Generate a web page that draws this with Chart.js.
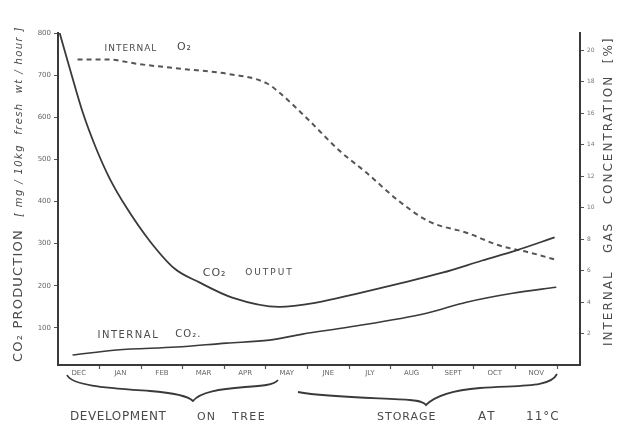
<!DOCTYPE html>
<html>
<head>
<meta charset="utf-8">
<script src="https://cdn.jsdelivr.net/npm/chart.js@4/dist/chart.umd.min.js"></script>
<style>
  html, body { margin: 0; padding: 0; background: #fff; }
  #wrap { width: 618px; height: 423px; }
</style>
</head>
<body>
<div id="wrap"><canvas id="myChart" width="618" height="423"></canvas></div>
<script>
var ctx = document.getElementById('myChart').getContext('2d');

// month labels along the bottom (each month is one unit on the x scale)
var months = ["DEC", "JAN", "FEB", "MAR", "APR", "MAY", "JNE", "JLY", "AUG", "SEPT", "OCT", "NOV"];

// CO2 output, left axis (mg / 10kg fresh wt / hour)
var co2OutputAt = [0.04, 0.3, 0.6, 0.9, 1.24, 1.65, 2.2, 2.8, 3.4, 4.19, 5.32, 6.21, 7.17, 8.2, 9.24, 10.2, 11.02, 11.94];
var co2Output = [800, 710, 610, 530, 455, 385, 307, 241, 208, 172, 150, 160, 181, 205, 231, 260, 284, 315];

// internal O2, right axis (%)
var o2At = [0.47, 1.17, 1.96, 2.99, 4.05, 5.01, 5.32, 5.97, 6.77, 7.42, 8.2, 8.93, 9.82, 10.6, 11.4, 11.94];
var o2 = [19.4, 19.4, 19.1, 18.8, 18.5, 17.9, 17.3, 15.7, 13.6, 12.2, 10.4, 9.1, 8.4, 7.6, 7.1, 6.7];

// internal CO2, right axis (%)
var co2InAt = [0.35, 1.41, 2.85, 4.05, 5.08, 5.88, 7.0, 8.86, 9.82, 10.93, 11.98];
var co2In = [0.63, 0.95, 1.14, 1.39, 1.58, 1.96, 2.41, 3.29, 3.99, 4.56, 4.94];

// tick values
var leftTicks = [100, 200, 300, 400, 500, 600, 700, 800];
var rightTicks = [2, 4, 6, 8, 10, 12, 14, 16, 18, 20];

function pts(xs, ys) {
    return xs.map(function (x, i) { return { x: x, y: ys[i] }; });
}

var ink = '#3a3a3a';
var textInk = '#4a4a4a';

function rotText(c, str, x, y, font, spacing) {
    c.save();
    c.translate(x, y);
    c.rotate(-Math.PI / 2);
    c.font = font;
    c.letterSpacing = spacing + 'px';
    c.fillText(str, 0, 0);
    var w = c.measureText(str).width;
    c.restore();
    return w;
}

function txt(c, str, x, y, font, spacing) {
    c.font = font;
    c.letterSpacing = (spacing || 0) + 'px';
    c.fillText(str, x, y);
}

// hand drawn bits: in-plot labels, braces, axis titles
var decor = {
    id: 'decor',
    afterDraw: function (chart) {
        var c = chart.ctx;
        var xs = chart.scales.x, yl = chart.scales.y, yr = chart.scales.y2;
        c.save();
        c.fillStyle = textInk;
        c.textBaseline = 'middle';
        c.textAlign = 'left';

        // series labels
        txt(c, 'INTERNAL', xs.getPixelForValue(1.12), yr.getPixelForValue(20.1), '9px "DejaVu Sans"', 1);
        txt(c, 'O₂', xs.getPixelForValue(2.86), yr.getPixelForValue(20.2), '11px "DejaVu Sans"', 1);
        txt(c, 'CO₂', xs.getPixelForValue(3.48), yl.getPixelForValue(230), '11px "DejaVu Sans"', 1);
        txt(c, 'OUTPUT', xs.getPixelForValue(4.5), yl.getPixelForValue(232), '9px "DejaVu Sans"', 2);
        txt(c, 'INTERNAL', xs.getPixelForValue(0.95), yr.getPixelForValue(1.9), '10px "DejaVu Sans"', 1.5);
        txt(c, 'CO₂.', xs.getPixelForValue(2.82), yr.getPixelForValue(1.95), '10px "DejaVu Sans"', 1);

        // braces under the months
        c.strokeStyle = ink;
        c.lineWidth = 1.8;
        c.beginPath();
        c.moveTo(67, 375);
        c.bezierCurveTo(72, 386, 110, 388, 150, 391);
        c.bezierCurveTo(175, 393, 188, 396, 193, 401);
        c.bezierCurveTo(200, 392, 220, 389, 245, 387);
        c.bezierCurveTo(262, 386, 274, 385, 278, 380);
        c.stroke();
        c.beginPath();
        c.moveTo(298, 392);
        c.bezierCurveTo(330, 398, 390, 398, 410, 400);
        c.bezierCurveTo(420, 401, 424, 402, 426, 405);
        c.bezierCurveTo(435, 396, 455, 390, 480, 388);
        c.bezierCurveTo(520, 385, 550, 388, 557, 374);
        c.stroke();

        // bottom captions
        txt(c, 'DEVELOPMENT', 70, 417, '12px "DejaVu Sans"', 0.6);
        txt(c, 'ON', 197, 417, '11px "DejaVu Sans"', 1);
        txt(c, 'TREE', 232, 417, '11px "DejaVu Sans"', 1.5);
        txt(c, 'STORAGE', 377, 417, '11px "DejaVu Sans"', 1);
        txt(c, 'AT', 478, 417, '12px "DejaVu Sans"', 2);
        txt(c, '11°C', 526, 417, '12px "DejaVu Sans"', 1);

        // left title
        var w = rotText(c, 'CO₂ PRODUCTION', 19, 362, '13px "DejaVu Sans"', 1.2);
        rotText(c, '[ mg / 10kg  fresh  wt / hour ]', 19, 362 - w - 12, 'italic 10px "DejaVu Sans"', 1.4);

        // right title (reads bottom to top like the left one)
        rotText(c, 'INTERNAL   GAS   CONCENTRATION  [%]', 609, 346, '12px "DejaVu Sans"', 2);
        c.restore();
    }
};

var myChart = new Chart(ctx, {
    type: 'line',
    data: {
        datasets: [{
            label: "CO2 output",
            data: pts(co2OutputAt, co2Output),
            yAxisID: 'y',
            borderColor: ink,
            borderWidth: 1.8,
            pointRadius: 0,
            cubicInterpolationMode: 'monotone',
            fill: false
        },
        {
            label: "Internal O2",
            data: pts(o2At, o2),
            yAxisID: 'y2',
            borderColor: '#555',
            borderWidth: 2,
            borderDash: [5, 4],
            pointRadius: 0,
            cubicInterpolationMode: 'monotone',
            fill: false
        },
        {
            label: "Internal CO2",
            data: pts(co2InAt, co2In),
            yAxisID: 'y2',
            borderColor: ink,
            borderWidth: 1.6,
            pointRadius: 0,
            cubicInterpolationMode: 'monotone',
            fill: false
        }]
    },
    options: {
        responsive: false,
        animation: false,
        layout: { padding: { top: 33, left: 0, right: 0, bottom: 0 } },
        plugins: {
            legend: { display: false },
            tooltip: { enabled: false }
        },
        scales: {
            x: {
                type: 'linear',
                min: 0,
                max: 12.55,
                afterBuildTicks: function (scale) {
                    var t = [];
                    for (var i = 0; i < months.length; i++) {
                        t.push({ value: i + 0.5 });
                        t.push({ value: i + 1 });
                    }
                    scale.ticks = t;
                },
                afterFit: function (scale) { scale.height = 58; },
                ticks: {
                    autoSkip: false,
                    maxRotation: 0,
                    padding: 0,
                    color: '#666',
                    font: { family: 'DejaVu Sans', size: 7 },
                    callback: function (v) {
                        return Number.isInteger(v) ? '' : months[Math.floor(v)];
                    }
                },
                grid: {
                    drawOnChartArea: false,
                    tickLength: 4,
                    tickWidth: 1.2,
                    tickColor: function (c) {
                        return c.tick && Number.isInteger(c.tick.value) ? '#555' : 'rgba(0,0,0,0)';
                    }
                },
                border: { display: true, color: ink, width: 2 }
            },
            y: {
                position: 'left',
                min: 12,
                max: 800,
                afterBuildTicks: function (scale) {
                    scale.ticks = leftTicks.map(function (v) { return { value: v }; });
                },
                afterFit: function (scale) { scale.width = 58; },
                ticks: {
                    padding: 3,
                    color: '#666',
                    font: { family: 'DejaVu Sans', size: 7 }
                },
                grid: { drawOnChartArea: false, tickLength: 4, tickColor: '#555' },
                border: { display: true, color: ink, width: 2 }
            },
            y2: {
                position: 'right',
                min: 0,
                max: 21.08,
                afterBuildTicks: function (scale) {
                    scale.ticks = rightTicks.map(function (v) { return { value: v }; });
                },
                afterFit: function (scale) { scale.width = 38; },
                ticks: {
                    padding: 3,
                    color: '#777',
                    font: { family: 'DejaVu Sans', size: 6 }
                },
                grid: { drawOnChartArea: false, tickLength: 4, tickColor: '#555' },
                border: { display: true, color: ink, width: 2 }
            }
        }
    },
    plugins: [decor]
});
</script>
</body>
</html>
